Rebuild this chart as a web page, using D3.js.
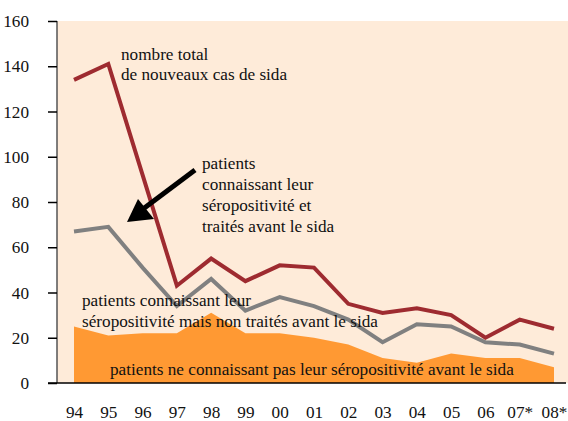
<!DOCTYPE html>
<html><head><meta charset="utf-8">
<script src="https://cdn.jsdelivr.net/npm/d3@7"></script>
</head><body style="margin:0"><svg id="c" width="568" height="421"></svg>
<script>
const years = ["94","95","96","97","98","99","00","01","02","03","04","05","06","07*","08*"];
const totalCases = [134,141,92,43,55,45,52,51,35,31,33,30,20,28,24];
const knownSero = [67,69,51,34,46,32,38,34,28,18,26,25,18,17,13];
const unknownSero = [25,21,22,22,31,22,22,20,17,11,9,13,11,11,7];
const yTicks = [0,20,40,60,80,100,120,140,160];

const FONT = "'Liberation Serif'";
const FS = "17.2px";
const svg = d3.select("#c");
const x = d3.scalePoint().domain(years).range([74,554]);
const y = d3.scaleLinear().domain([0,160]).range([383,21]);

svg.append("rect").attr("x",57).attr("y",y(160)).attr("width",568-57).attr("height",y(0)-y(160)).attr("fill","#FEEBD9");
svg.append("path").datum(unknownSero)
  .attr("d", d3.area().x((d,i)=>x(years[i])).y0(y(0)).y1(d=>y(d))).attr("fill","#FF9933");
svg.append("path").datum(knownSero)
  .attr("d", d3.line().x((d,i)=>x(years[i])).y(d=>y(d)))
  .attr("fill","none").attr("stroke","#808080").attr("stroke-width",4);
svg.append("path").datum(totalCases)
  .attr("d", d3.line().x((d,i)=>x(years[i])).y(d=>y(d)))
  .attr("fill","none").attr("stroke","#9E2B30").attr("stroke-width",4);

const ya = svg.append("g").attr("transform","translate(57,0)")
  .call(d3.axisLeft(y).tickValues(yTicks).tickSize(9).tickPadding(19).tickFormat(d3.format("d")));
ya.select(".domain").attr("stroke","#555").attr("stroke-width",1.5).attr("d","M0,"+y(160)+"V"+y(0));
ya.selectAll(".tick line").attr("stroke","#000").attr("stroke-width",1.5);
ya.selectAll("text").style("font-family",FONT).style("font-size",FS).attr("fill","#111");

svg.append("line").attr("x1",48).attr("x2",566).attr("y1",y(0)).attr("y2",y(0)).attr("stroke","#000").attr("stroke-width",1.5);

const xa = svg.append("g").attr("transform","translate(0,"+y(0)+")")
  .call(d3.axisBottom(x).tickSize(0).tickPadding(23));
xa.select(".domain").remove();
xa.selectAll("text").style("font-family",FONT).style("font-size",FS).attr("fill","#111");

svg.append("line").attr("x1",195).attr("y1",170).attr("x2",143).attr("y2",209).attr("stroke","#000").attr("stroke-width",5);
svg.append("path").attr("d","M127,222 L138,199 L154,219 Z").attr("fill","#000");

function label(lines, x0, y0, dy){
  lines.forEach((l,i)=>svg.append("text").attr("x",x0).attr("y",y0+i*dy)
    .style("font-family",FONT).style("font-size",FS).attr("fill","#111").text(l));
}
label(["nombre total","de nouveaux cas de sida"],121,60,20);
label(["patients","connaissant leur","séropositivité et","traités avant le sida"],202,169,21);
label(["patients connaissant leur","séropositivité mais non traités avant le sida"],82,306,21);
label(["patients ne connaissant pas leur séropositivité avant le sida"],110,375,20);
</script></body></html>
